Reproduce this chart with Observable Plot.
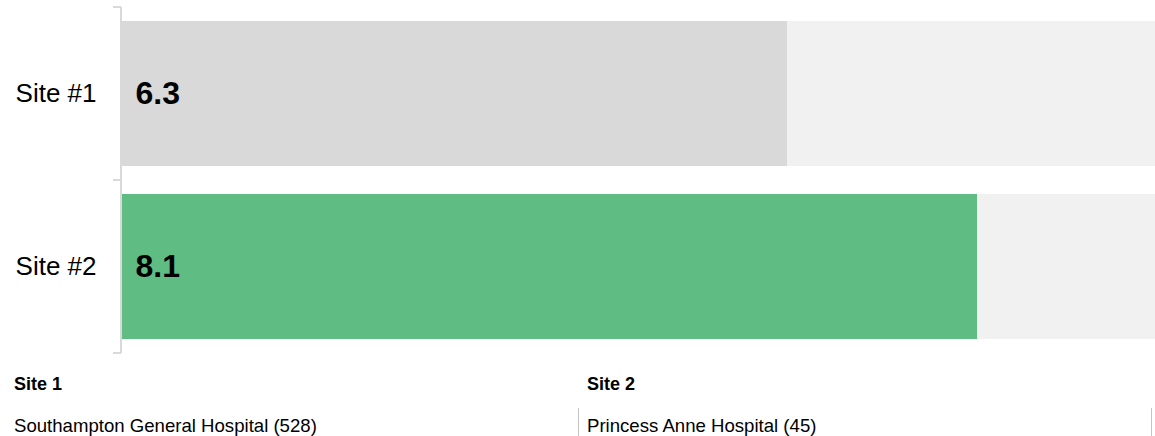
<!DOCTYPE html>
<html>
<head>
<meta charset="utf-8">
<script src="https://cdn.jsdelivr.net/npm/d3@7"></script>
<script src="https://cdn.jsdelivr.net/npm/@observablehq/plot@0.6"></script>
<style>
  html, body { margin: 0; padding: 0; background: #fff; overflow: hidden; }
  body { width: 1155px; height: 436px; font-family: "Liberation Sans", Arial, sans-serif; color: #000; }
  #chart svg { display: block; }
  .foot { display: flex; }
  .col1 { width: 579px; box-sizing: border-box; }
  .col2 { width: 573px; box-sizing: border-box; }
  .name { font-size: 18px; font-weight: bold; line-height: 24px; margin-top: 12px; margin-bottom: 12px; }
  .hosp { font-size: 18.6px; line-height: 24px; padding-top: 6px; height: 40px; border-right: 1px solid #c4c4c4; }
  .col1 .name, .col1 .hosp span { padding-left: 14px; }
  .col2 .name, .col2 .hosp span { padding-left: 8px; }
</style>
</head>
<body>
<div id="chart"></div>
<div class="foot" id="foot"></div>
<script>
// ---- data ----
const sites = ["Site #1", "Site #2"];
const scores = [6.3, 8.1];
const maxScore = 10;
const barColors = ["#d9d9d9", "#5fbd84"];
const siteNames = ["Site 1", "Site 2"];
const hospitals = ["Southampton General Hospital (528)", "Princess Anne Hospital (45)"];

const data = sites.map((s, i) => ({site: s, score: scores[i], color: barColors[i], max: maxScore}));

function bracket(index, scales) {
  const {x, y} = scales;
  const step = y(sites[1]) - y(sites[0]);
  const bw = y.bandwidth();
  const pad = (step - bw) / 2;
  const edges = sites.map(s => y(s) - pad).concat([y(sites[sites.length - 1]) + bw + pad]);
  const x0 = x(0);
  const g = d3.create("svg:g").attr("stroke", "#d9d9d9").attr("fill", "none").attr("stroke-width", 2);
  g.append("path").attr("d", `M${x0 - 1},${edges[0]}V${edges[edges.length - 1]}`);
  g.selectAll("line").data(edges).join("line")
    .attr("x1", x0 - 9).attr("x2", x0 - 1)
    .attr("y1", d => d).attr("y2", d => d);
  return g.node();
}

const chart = Plot.plot({
  width: 1155,
  height: 360,
  marginLeft: 122,
  marginRight: 0,
  marginTop: 7,
  marginBottom: 7,
  style: {fontFamily: "'Liberation Sans', Arial, sans-serif", color: "#000", background: "#fff"},
  x: {domain: [0, maxScore], range: [122, 122 + maxScore * 105.56], axis: null},
  y: {domain: sites, paddingInner: 0.162, paddingOuter: 0.081, axis: null},
  color: {type: "identity"},
  marks: [
    Plot.barX(data, {y: "site", x: "max", fill: "#f1f1f1", clip: true}),
    Plot.barX(data, {y: "site", x: "score", fill: "color"}),
    bracket,
    Plot.axisY({tickSize: 0, tickPadding: 26, fontSize: 26, label: null, fill: "#000"}),
    Plot.text(data, {y: "site", x: 0, text: d => d3.format(".1f")(d.score), dx: 13, textAnchor: "start",
      fontSize: 32, fontWeight: "bold", fill: "#000"})
  ]
});
document.getElementById("chart").appendChild(chart);

const foot = d3.select("#foot");
siteNames.forEach((n, i) => {
  const col = foot.append("div").attr("class", "col" + (i + 1));
  col.append("div").attr("class", "name").text(n);
  col.append("div").attr("class", "hosp").append("span").text(hospitals[i]);
});
</script>
</body>
</html>
